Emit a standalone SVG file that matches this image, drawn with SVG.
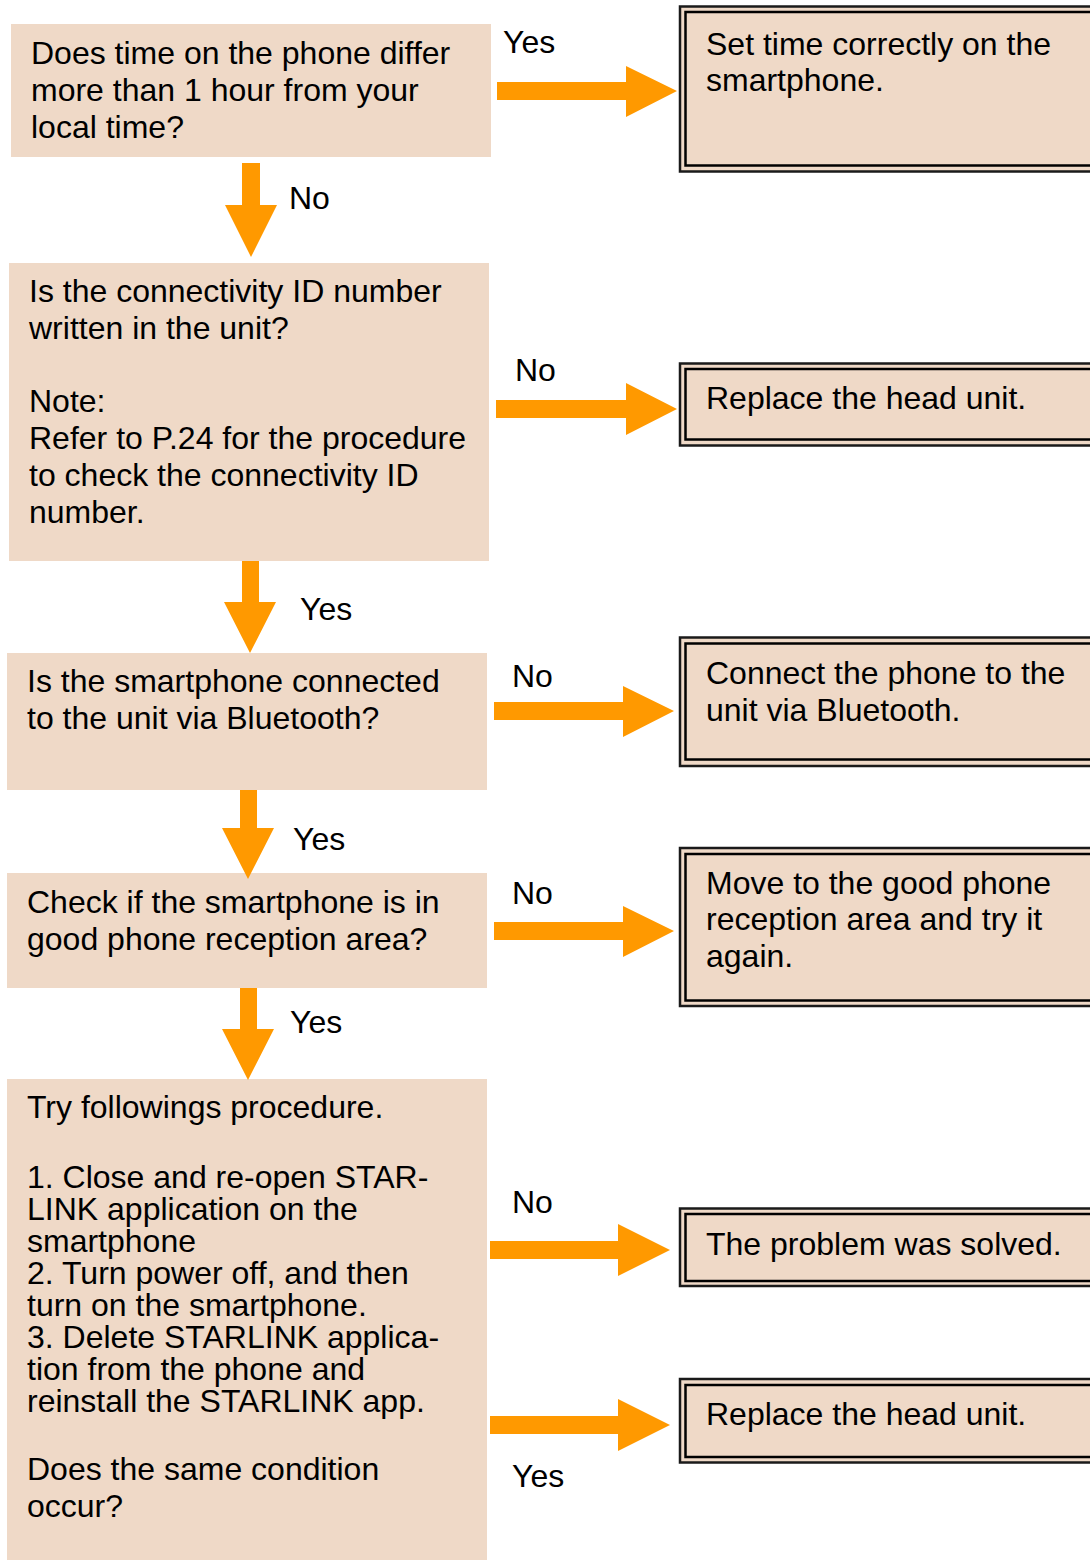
<svg xmlns="http://www.w3.org/2000/svg" width="1090" height="1560" viewBox="0 0 1090 1560">
<style>
.box{fill:#EFD9C7;stroke:none}
.outer{fill:#EFD9C7;stroke:#1a1a1a;stroke-width:2.5}
.inner{fill:none;stroke:#000;stroke-width:2.5}
text{font-family:"Liberation Sans",Arial,sans-serif;font-size:32px;fill:#000}
.arrow{fill:#FF9900;stroke:none}
</style>
<rect width="1090" height="1560" fill="#fff"/>
<g id="q1">
<rect class="box" x="11" y="24" width="480" height="133"/>
<text x="31" y="64">Does time on the phone differ</text>
<text x="31" y="101">more than 1 hour from your</text>
<text x="31" y="138">local time?</text>
</g>
<g id="q2">
<rect class="box" x="9" y="263" width="480" height="298"/>
<text x="29" y="302">Is the connectivity ID number</text>
<text x="29" y="339">written in the unit?</text>
<text x="29" y="412">Note:</text>
<text x="29" y="449">Refer to P.24 for the procedure</text>
<text x="29" y="486">to check the connectivity ID</text>
<text x="29" y="523">number.</text>
</g>
<g id="q3">
<rect class="box" x="7" y="653" width="480" height="137"/>
<text x="27" y="692">Is the smartphone connected</text>
<text x="27" y="729">to the unit via Bluetooth?</text>
</g>
<g id="q4">
<rect class="box" x="7" y="873" width="480" height="115"/>
<text x="27" y="913">Check if the smartphone is in</text>
<text x="27" y="950">good phone reception area?</text>
</g>
<g id="q5">
<rect class="box" x="7" y="1079" width="480" height="481"/>
<text x="27" y="1118">Try followings procedure.</text>
<text x="27" y="1188">1. Close and re-open STAR-</text>
<text x="27" y="1220">LINK application on the</text>
<text x="27" y="1252">smartphone</text>
<text x="27" y="1284">2. Turn power off, and then</text>
<text x="27" y="1316">turn on the smartphone.</text>
<text x="27" y="1348">3. Delete STARLINK applica-</text>
<text x="27" y="1380">tion from the phone and</text>
<text x="27" y="1412">reinstall the STARLINK app.</text>
<text x="27" y="1480">Does the same condition</text>
<text x="27" y="1517">occur?</text>
</g>
<g id="r1">
<rect class="outer" x="680" y="6.5" width="420" height="165"/>
<rect class="inner" x="685.5" y="12" width="420" height="153.5"/>
<text x="706" y="55">Set time correctly on the</text>
<text x="706" y="91">smartphone.</text>
</g>
<g id="r2">
<rect class="outer" x="680" y="363.5" width="420" height="82"/>
<rect class="inner" x="685.5" y="369" width="420" height="70.5"/>
<text x="706" y="409">Replace the head unit.</text>
</g>
<g id="r3">
<rect class="outer" x="680" y="637.5" width="420" height="128.5"/>
<rect class="inner" x="685.5" y="643.5" width="420" height="116"/>
<text x="706" y="684">Connect the phone to the</text>
<text x="706" y="721">unit via Bluetooth.</text>
</g>
<g id="r4">
<rect class="outer" x="680" y="848" width="420" height="158"/>
<rect class="inner" x="685.5" y="854" width="420" height="146.5"/>
<text x="706" y="894">Move to the good phone</text>
<text x="706" y="930">reception area and try it</text>
<text x="706" y="967">again.</text>
</g>
<g id="r5">
<rect class="outer" x="680" y="1208.5" width="420" height="77.5"/>
<rect class="inner" x="685.5" y="1214" width="420" height="67"/>
<text x="706" y="1255">The problem was solved.</text>
</g>
<g id="r6">
<rect class="outer" x="680" y="1379" width="420" height="83.5"/>
<rect class="inner" x="685.5" y="1385" width="420" height="72"/>
<text x="706" y="1425">Replace the head unit.</text>
</g>
<g id="connectors">
<polygon class="arrow" points="497,82 626,82 626,66 677,91 626,117 626,100 497,100"/>
<polygon class="arrow" points="496,400 626,400 626,383 677,409 626,435 626,418 496,418"/>
<polygon class="arrow" points="494,702 623,702 623,686 674,711 623,737 623,720 494,720"/>
<polygon class="arrow" points="494,922 623,922 623,906 674,931 623,957 623,940 494,940"/>
<polygon class="arrow" points="490,1241 618,1241 618,1224 670,1250 618,1276 618,1259 490,1259"/>
<polygon class="arrow" points="490,1416 618,1416 618,1399 670,1425 618,1451 618,1434 490,1434"/>
<polygon class="arrow" points="242,163 260,163 260,205 277,205 251,257 225,205 242,205"/>
<polygon class="arrow" points="242,561 259,561 259,602 276,602 250,653 224,602 242,602"/>
<polygon class="arrow" points="240,790 257,790 257,828 274,828 248,879 222,828 240,828"/>
<polygon class="arrow" points="240,988 257,988 257,1029 274,1029 248,1080 222,1029 240,1029"/>
<text x="503" y="53">Yes</text>
<text x="289" y="209">No</text>
<text x="515" y="381">No</text>
<text x="300" y="620">Yes</text>
<text x="512" y="687">No</text>
<text x="293" y="850">Yes</text>
<text x="512" y="904">No</text>
<text x="290" y="1033">Yes</text>
<text x="512" y="1213">No</text>
<text x="512" y="1487">Yes</text>
</g>
</svg>
